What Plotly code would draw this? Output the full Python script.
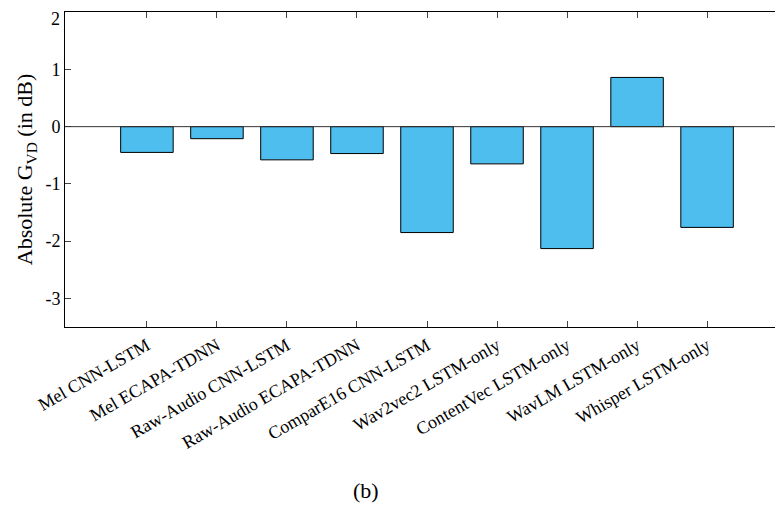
import plotly.graph_objects as go

models = ["Mel CNN-LSTM", "Mel ECAPA-TDNN", "Raw-Audio CNN-LSTM", "Raw-Audio ECAPA-TDNN",
          "ComparE16 CNN-LSTM", "Wav2vec2 LSTM-only", "ContentVec LSTM-only",
          "WavLM LSTM-only", "Whisper LSTM-only"]
gvd = [-0.45, -0.21, -0.58, -0.47, -1.85, -0.65, -2.13, 0.86, -1.76]
yticks = [-3, -2, -1, 0, 1, 2]

font = "Liberation Serif"
fig = go.Figure(go.Bar(
    x=list(range(len(models))), y=gvd, width=0.75,
    marker=dict(color="#4DBEEE", line=dict(color="black", width=1)),
))
# page body has an 8px margin, so the figure is a bit smaller than the window
fig.update_layout(
    width=775, height=502, margin=dict(l=57, r=1, t=4, b=183, autoexpand=False),
    plot_bgcolor="white", paper_bgcolor="white", showlegend=False,
    font=dict(family=font, size=18, color="black"),
    shapes=[dict(type="line", xref="paper", x0=0, x1=1, yref="y", y0=0, y1=0,
                 line=dict(color="#333", width=1), layer="above")],
    annotations=[
        dict(text="(b)", xref="paper", yref="paper", x=0.42, y=-0.565,
             showarrow=False, font=dict(size=22)),
        # top tick label would be clipped at the page top, draw it by hand
        dict(text=str(yticks[-1]), xref="paper", yref="y", x=0, y=yticks[-1],
             xanchor="right", yanchor="top", xshift=-3, yshift=5, showarrow=False),
    ],
)
fig.update_xaxes(range=[-1.17, 9.07], tickmode="array", tickvals=list(range(len(models))),
                 ticktext=models, tickangle=-30, ticks="inside", ticklen=6,
                 showline=True, linecolor="black", mirror="ticks", showgrid=False,
                 zeroline=False, automargin=False)
fig.update_yaxes(range=[-3.5, 2.003], ticks="inside", ticklen=6,
                 showline=True, linecolor="black", mirror="ticks", showgrid=False,
                 zeroline=False, tickvals=yticks, automargin=False,
                 ticktext=[str(v) for v in yticks[:-1]] + [""],
                 title=dict(text="Absolute G<sub>VD</sub> (in dB)", standoff=6))
fig.write_html("out.html")
